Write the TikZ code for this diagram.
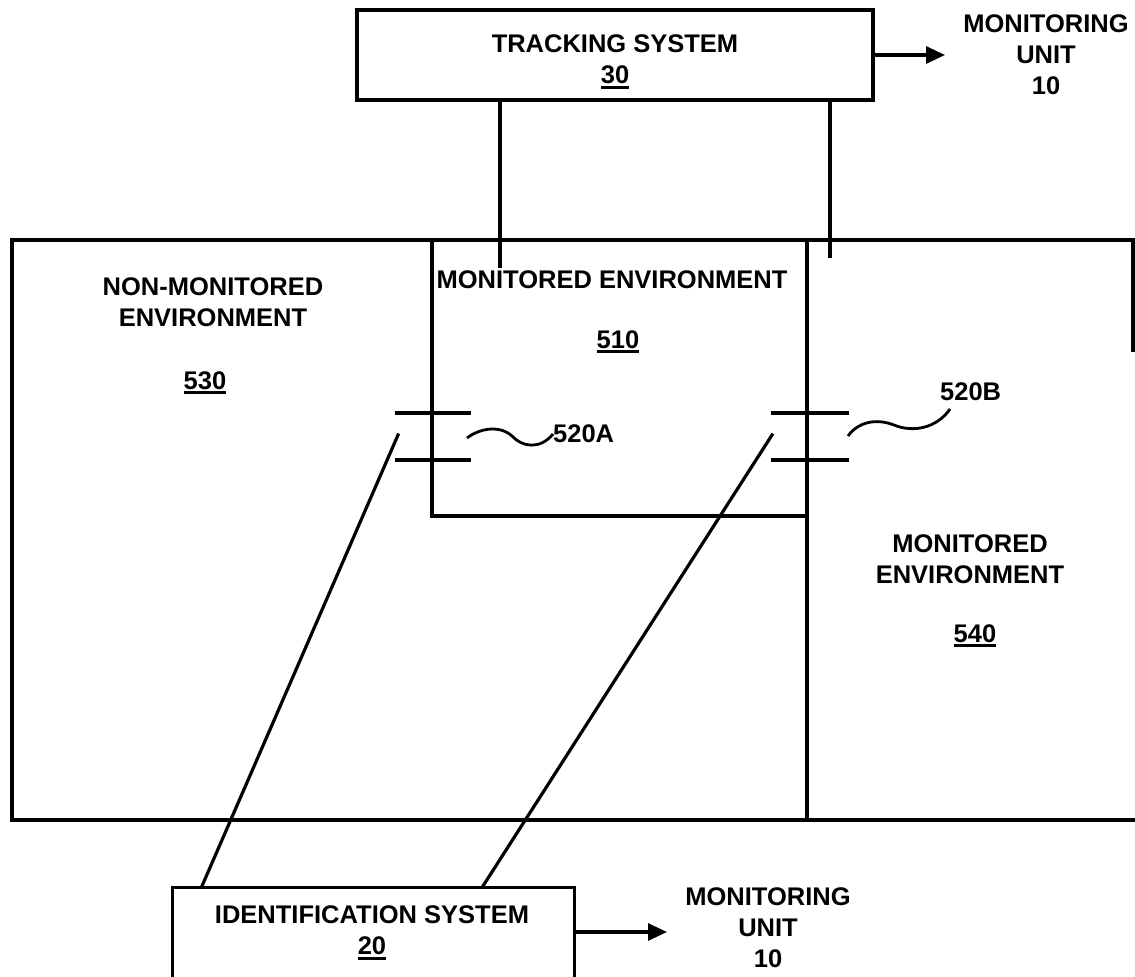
\documentclass[tikz,border=0pt]{standalone}
\usepackage{fontspec}
\setmainfont{Liberation Sans}
\usetikzlibrary{arrows.meta}
\newcommand{\ulnum}[1]{\setbox0\hbox{#1}\rlap{\rule[-5pt]{\wd0}{3pt}}\box0}
\tikzset{
  ln/.style={line width=3.2pt, line cap=rect},
  lbl/.style={font=\bfseries\fontsize{25.5}{31}\selectfont, align=center, inner sep=0pt},
  boxnode/.style={draw, line width=3.2pt, inner sep=0pt},
  arr/.style={line width=3.2pt, -{Triangle[length=19pt,width=17pt]}}
}
\begin{document}
\begin{tikzpicture}[x=1pt,y=-1pt]
\useasboundingbox (0,0) rectangle (1135,977);
\clip (0,0) rectangle (1135,977);

% tracking system
\node[boxnode, minimum width=516pt, minimum height=90pt] (track) at (615,55) {};
\node[lbl] (tracktxt) at (615,62) {TRACKING SYSTEM\\\ulnum{30}};
\node[lbl] (mu1) at (1046,55) {MONITORING\\UNIT\\10};
\coordinate (mu1in) at (945,55);
\draw[arr] (track.east) -- (mu1in);

% identification system
\node[boxnode, minimum width=402pt, minimum height=120pt, anchor=north west] (idbox) at (171,886) {};
\node[lbl] (idtxt) at (372,933) {IDENTIFICATION SYSTEM\\\ulnum{20}};
\node[lbl] (mu2) at (768,928) {MONITORING\\UNIT\\10};
\coordinate (mu2in) at (667,932);
\draw[arr] (idbox.east |- mu2in) -- (mu2in);

% environments
\draw[ln] (1133,350) -- (1133,240) -- (12,240) -- (12,820) -- (1135,820);
\draw[ln] (432,240) -- (432,516) -- (807,516);
\draw[ln] (807,240) -- (807,820);

\node[lbl] (nonmon) at (213,302) {NON-MONITORED\\ENVIRONMENT};
\node[lbl] (n530) at (205,383) {\ulnum{530}};
\node[lbl] (mon510) at (612,280) {MONITORED ENVIRONMENT};
\node[lbl] (n510) at (618,342) {\ulnum{510}};
\node[lbl] (mon540) at (970,559) {MONITORED\\ENVIRONMENT};
\node[lbl] (n540) at (975,636) {\ulnum{540}};

% tracking lines into environments
\coordinate (t1) at (500,266);
\coordinate (t2) at (830,256);
\draw[ln] (t1 |- track.south) -- (t1);
\draw[ln] (t2 |- track.south) -- (t2);

% doors
\draw[ln] (397,413) -- (469,413);
\draw[ln] (397,460) -- (469,460);
\draw[ln] (773,413) -- (847,413);
\draw[ln] (773,460) -- (847,460);

% door labels
\node[lbl, anchor=west] (l520a) at (553,434) {520A};
\node[lbl, anchor=west] (l520b) at (940,392) {520B};
\draw[line width=2.8pt] (467,438) .. controls (480,428) and (500,425) .. (512,436) .. controls (522,447) and (540,450) .. (l520a.west);
\draw[line width=2.8pt] (848,436) .. controls (858,422) and (876,418) .. (894,425) .. controls (913,433) and (937,428) .. (950,409);

% identification lines
\coordinate (sA) at (398,435);
\coordinate (sB) at (772,435);
\coordinate (eA) at (202,886);
\coordinate (eB) at (483,886);
\draw[ln] (sA) -- (eA);
\draw[ln] (sB) -- (eB);
\end{tikzpicture}
\end{document}
